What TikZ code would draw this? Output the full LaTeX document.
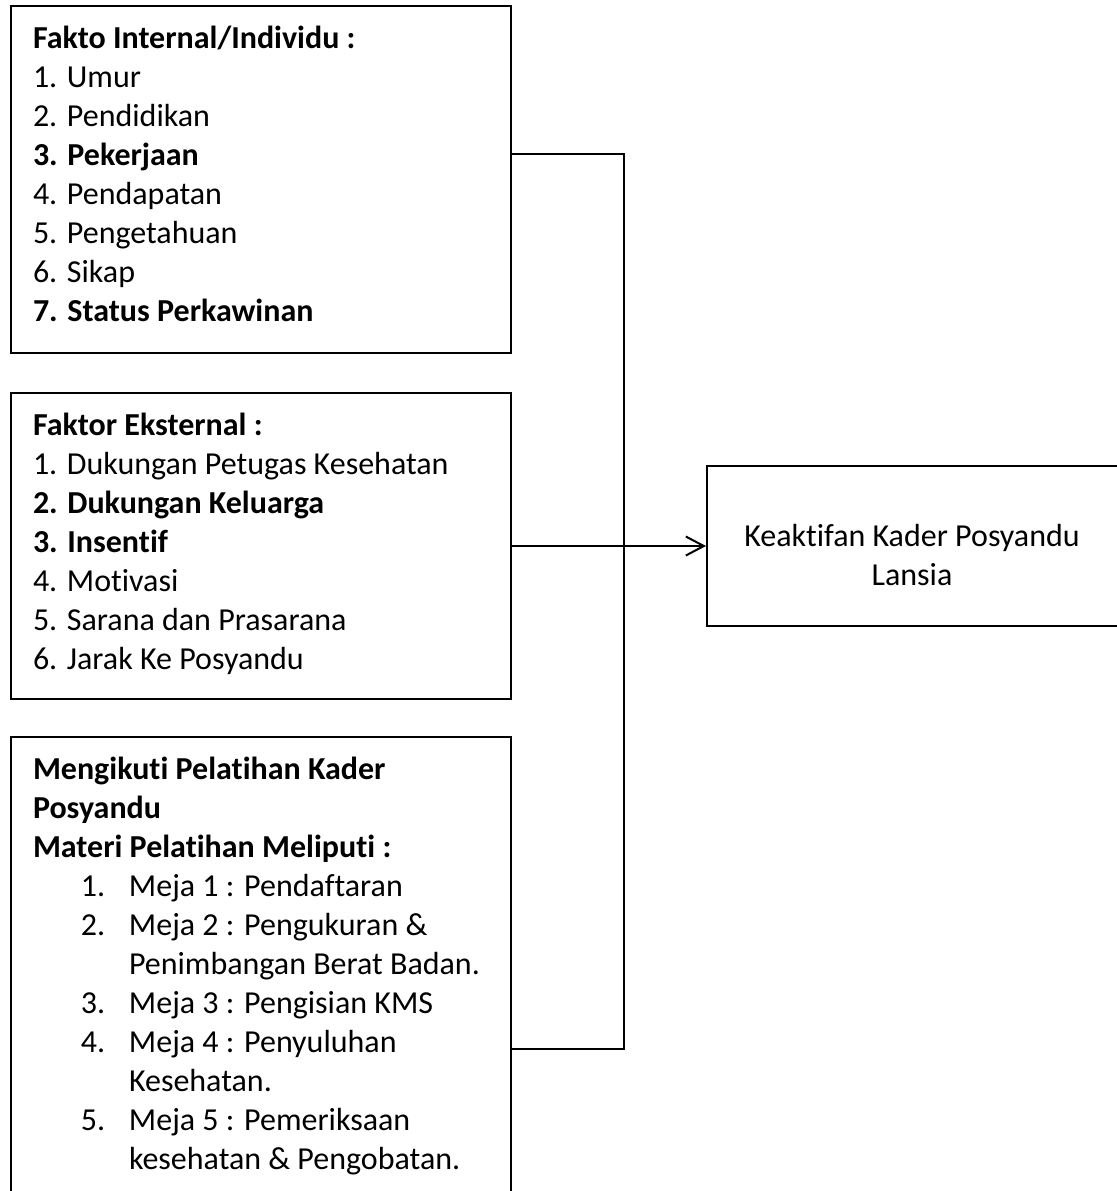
\documentclass[tikz,border=0pt]{standalone}
\usepackage{fontspec}
\setmainfont{Carlito}[Ligatures=NoCommon]
\usepackage{tikz}
\usetikzlibrary{arrows.meta, positioning}

\begin{document}
\begin{tikzpicture}[x=0.5pt, y=-0.5pt, line width=1pt,
    font=\fontsize{16}{19.5}\selectfont,
    box/.style={draw=black, line width=1pt, minimum width=250pt, inner sep=0pt},
    txt/.style={anchor=north west, inner sep=0pt, text width=240pt, align=flush left},
    link/.style={draw=black, line width=1pt},
    arr/.style={-{Straight Barb[length=9pt, width=9.5pt, line width=1pt]}, draw=black, line width=1pt}]

  \useasboundingbox (0,0) rectangle (1117,1191);

  % boxes
  \node[box, minimum height=173.5pt] (inbox) at (261,179.5) {};
  \node[box, minimum height=153pt]   (exbox) at (261,546)   {};
  \node[box, minimum height=231.5pt] (trbox) at (261,968.5) {};
  \node[box, minimum width=206pt, minimum height=80pt] (outbox) at (913,546) {};

  % texts
  \node[txt] (intxt) at (32,19.7) {\setlength{\parskip}{0pt}\strut\textbf{Fakto Internal/Individu :}\\
    1. Umur\\
    2. Pendidikan\\
    \textbf{3. Pekerjaan}\\
    4. Pendapatan\\
    5. Pengetahuan\\
    6. Sikap\\
    \textbf{7. Status Perkawinan}};

  \node[txt] (extxt) at (32,406.7) {\setlength{\parskip}{0pt}\strut\textbf{Faktor Eksternal :}\\
    1. Dukungan Petugas Kesehatan\\
    \textbf{2. Dukungan Keluarga}\\
    \textbf{3. Insentif}\\
    4. Motivasi\\
    5. Sarana dan Prasarana\\
    6. Jarak Ke Posyandu};

  \node[txt] (trtxt) at (32,750.7) {\setlength{\parskip}{0pt}\setlength{\parindent}{0pt}%
    \strut\textbf{Mengikuti Pelatihan Kader}\newline
    \textbf{Posyandu}\newline
    \textbf{Materi Pelatihan Meliputi :}\par
    \leftskip=48pt
    \noindent\llap{\makebox[24pt][l]{1.}}Meja 1 : Pendaftaran\par
    \noindent\llap{\makebox[24pt][l]{2.}}Meja 2 : Pengukuran \&\newline Penimbangan Berat Badan.\par
    \noindent\llap{\makebox[24pt][l]{3.}}Meja 3 : Pengisian KMS\par
    \noindent\llap{\makebox[24pt][l]{4.}}Meja 4 : Penyuluhan\newline Kesehatan.\par
    \noindent\llap{\makebox[24pt][l]{5.}}Meja 5 : Pemeriksaan\newline kesehatan \& Pengobatan.\par};

  \node[anchor=north, inner sep=0pt, align=center] (outtxt) at (912,517.7)
    {\strut Keaktifan Kader Posyandu\\Lansia};

  % connectors
  \coordinate (junc) at (624,546);
  \draw[link] ([yshift=12.75pt]inbox.east) -| (junc) |- ([yshift=-40.25pt]trbox.east);
  \draw[arr] (exbox.east) -- (outbox.west);
\end{tikzpicture}
\end{document}
